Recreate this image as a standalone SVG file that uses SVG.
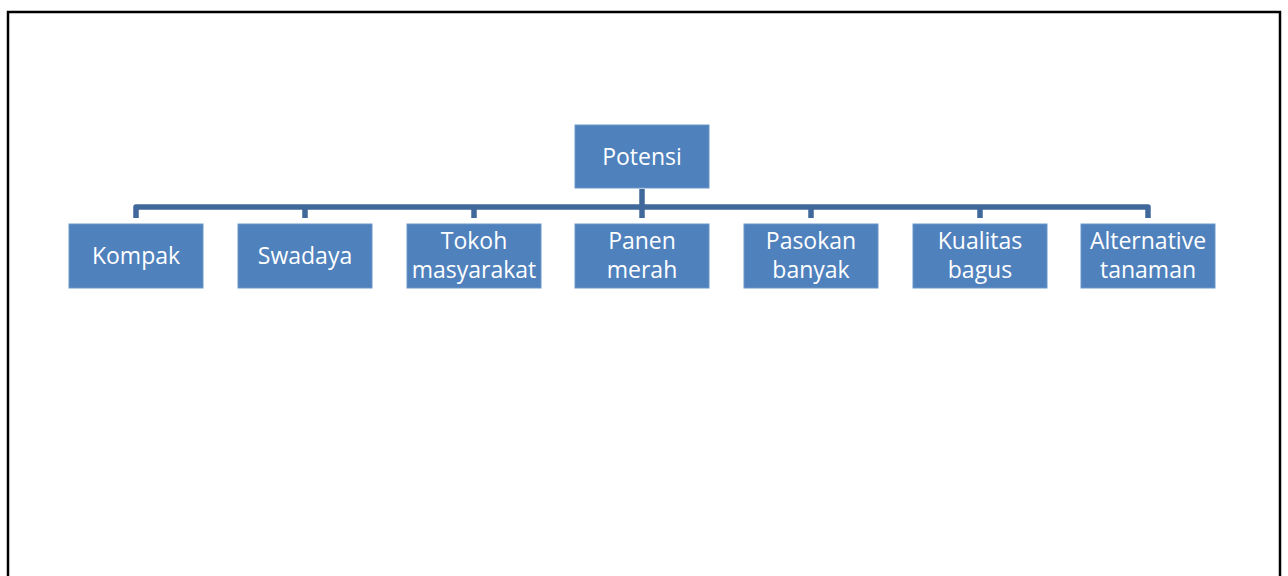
<svg xmlns="http://www.w3.org/2000/svg" width="1288" height="576" viewBox="0 0 1288 576">
<style>
.box{fill:#4f81bd;stroke:#6d95c7;stroke-width:1}
.t{font-family:"Open Sans","Liberation Sans",sans-serif;font-size:23px;fill:#ffffff;text-anchor:middle}
.c{fill:none;stroke:#41689a;stroke-width:5.5;stroke-linejoin:round}
</style>
<rect x="0" y="0" width="1288" height="576" fill="#ffffff"/>
<rect x="8" y="12" width="1272" height="600" fill="none" stroke="#000" stroke-width="2.5"/>
<g id="connectors">
<path class="c" d="M642 189V206"/>
<path class="c" d="M136 218V207H1148V218"/>
<path class="c" d="M305 207V218M474 207V218M642 207V218M811 207V218M980 207V218"/>
</g>
<g id="potensi"><rect class="box" x="575" y="125" width="134" height="63"/><text class="t" x="642" y="165">Potensi</text></g>
<g id="kompak"><rect class="box" x="69" y="224" width="134" height="64"/><text class="t" x="136" y="264">Kompak</text></g>
<g id="swadaya"><rect class="box" x="238" y="224" width="134" height="64"/><text class="t" x="305" y="264">Swadaya</text></g>
<g id="tokoh"><rect class="box" x="407" y="224" width="134" height="64"/><text class="t" x="474" y="249">Tokoh</text><text class="t" x="474" y="278">masyarakat</text></g>
<g id="panen"><rect class="box" x="575" y="224" width="134" height="64"/><text class="t" x="642" y="249">Panen</text><text class="t" x="642" y="278">merah</text></g>
<g id="pasokan"><rect class="box" x="744" y="224" width="134" height="64"/><text class="t" x="811" y="249">Pasokan</text><text class="t" x="811" y="278">banyak</text></g>
<g id="kualitas"><rect class="box" x="913" y="224" width="134" height="64"/><text class="t" x="980" y="249">Kualitas</text><text class="t" x="980" y="278">bagus</text></g>
<g id="alternative"><rect class="box" x="1081" y="224" width="134" height="64"/><text class="t" x="1148" y="249">Alternative</text><text class="t" x="1148" y="278">tanaman</text></g>
</svg>
